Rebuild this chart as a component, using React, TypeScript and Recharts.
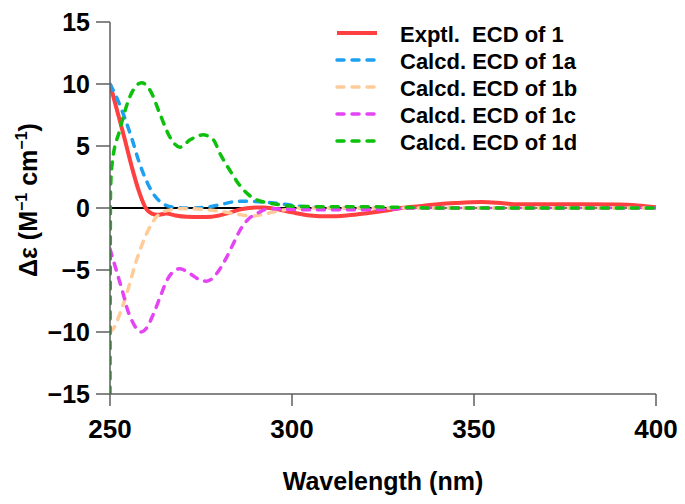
import React from "react";
import { LineChart, Line, XAxis, YAxis, ReferenceLine } from "recharts";

const FONT = '"Liberation Sans", Arial, Helvetica, sans-serif';

// wavelength (nm) / Δε pairs for each curve
const exptWl = [250, 252, 254, 256, 258, 260, 261.5, 263, 265.5, 268, 271, 275, 278, 282, 286, 290, 292, 295, 300, 305, 310, 315, 320, 325, 330, 335, 340, 345, 352, 358, 362, 370, 380, 390, 395, 400];
const exptVals = [10, 7.8, 5.6, 3.3, 1.3, -0.1, -0.45, -0.55, -0.45, -0.6, -0.7, -0.72, -0.7, -0.45, -0.1, 0.05, 0.05, -0.05, -0.35, -0.6, -0.67, -0.6, -0.45, -0.25, 0, 0.15, 0.3, 0.4, 0.48, 0.38, 0.3, 0.3, 0.3, 0.28, 0.2, 0.05];

const calcAWl = [250, 252, 254, 256, 258, 260, 262, 264, 266, 268, 272, 276, 280, 284, 287, 291, 295, 298, 302, 306, 310, 400];
const calcAVals = [10, 8.8, 7.3, 5.6, 3.7, 2.2, 1.1, 0.45, 0.15, 0.05, 0, 0.05, 0.25, 0.5, 0.55, 0.5, 0.4, 0.3, 0.15, 0.05, 0, 0];

const calcBWl = [250, 251, 253, 254.6, 257.3, 260, 262.8, 265.7, 270, 275, 280, 285, 289, 293, 297, 302, 400];
const calcBVals = [-10, -9.7, -8.3, -6.9, -4.2, -2.1, -0.7, -0.2, -0.05, -0.1, -0.25, -0.5, -0.65, -0.45, -0.2, 0, 0];

const calcCWl = [250, 252, 253.6, 254.6, 256.4, 258.5, 260, 262, 264, 265.7, 267.5, 269.2, 272, 274.7, 276.5, 278.4, 280, 282, 284, 285.7, 288, 290.3, 294, 298, 305, 315, 325, 335, 400];
const calcCVals = [-3.3, -5.3, -6.9, -8, -9.3, -10, -9.7, -8.5, -7, -5.8, -5.1, -4.9, -5.3, -5.8, -5.9, -5.6, -5, -4, -2.8, -1.8, -0.9, -0.45, -0.05, -0.1, -0.15, -0.15, -0.1, 0, 0];

const calcDWl = [250, 250.15, 250.6, 252.7, 255.5, 258.7, 261, 263.7, 266.5, 269.2, 272, 275.6, 278.4, 280.2, 283, 285.7, 289.3, 292, 294.8, 300, 310, 320, 330, 340, 400];
const calcDVals = [-15, 1.5, 3.6, 6.3, 9, 10.1, 9.5, 7.6, 5.7, 4.9, 5.5, 5.9, 5.5, 4.4, 3, 1.8, 0.8, 0.5, 0.35, 0.15, 0.1, 0.1, 0.05, 0, 0];

const xTicks = [250, 300, 350, 400];
const yTicks = [-15, -10, -5, 0, 5, 10, 15];

const toPoints = (wl: number[], vals: number[]) => wl.map((x, i) => ({ x, y: vals[i] }));

const series = [
  { key: "expt", name: "Exptl.\u00a0 ECD of 1", color: "#ff4040", dash: undefined, width: 4, data: toPoints(exptWl, exptVals) },
  { key: "1a", name: "Calcd. ECD of 1a", color: "#1ea0f0", dash: "7 8", width: 3.5, data: toPoints(calcAWl, calcAVals) },
  { key: "1b", name: "Calcd. ECD of 1b", color: "#ffcc99", dash: "7 8", width: 3.5, data: toPoints(calcBWl, calcBVals) },
  { key: "1c", name: "Calcd. ECD of 1c", color: "#e444f4", dash: "7 8", width: 3.5, data: toPoints(calcCWl, calcCVals) },
  { key: "1d", name: "Calcd. ECD of 1d", color: "#0cc00c", dash: "7 8", width: 3.5, data: toPoints(calcDWl, calcDVals) },
];

const minus = (v: number) => String(v).replace("-", "\u2212");

function YLabel() {
  return (
    <text
      x={37}
      y={200}
      transform="rotate(-90 37 200)"
      textAnchor="middle"
      fontFamily={FONT}
      fontWeight="bold"
      fontSize={25}
      fill="#000"
    >
      Δε (M
      <tspan dy={-10} fontSize={16}>{"\u22121"}</tspan>
      <tspan dy={10}> cm</tspan>
      <tspan dy={-10} fontSize={16}>{"\u22121"}</tspan>
      <tspan dy={10}>)</tspan>
    </text>
  );
}

function XLabel() {
  return (
    <text x={383} y={490} textAnchor="middle" fontFamily={FONT} fontWeight="bold" fontSize={25} fill="#000">
      Wavelength (nm)
    </text>
  );
}

function LegendBox() {
  return (
    <svg width={300} height={140} style={{ position: "absolute", left: 330, top: 18 }}>
      {series.map((s, i) => {
        const y = 15 + i * 27;
        return (
          <g key={s.key}>
            <line
              x1={7}
              x2={s.dash ? 45 : 47}
              y1={y}
              y2={y}
              stroke={s.color}
              strokeWidth={s.width}
              strokeDasharray={s.dash}
              strokeLinecap={s.dash ? "round" : "butt"}
            />
            <text x={70} y={y + 9} fontFamily={FONT} fontWeight="bold" fontSize={22} fill="#000">
              {s.name}
            </text>
          </g>
        );
      })}
    </svg>
  );
}

export default function App() {
  return (
    <div style={{ position: "absolute", left: 0, top: 0, width: 685, height: 504, background: "#fff" }}>
      <LineChart width={685} height={504} margin={{ top: 22, right: 29, bottom: 0, left: 0 }}>
        <XAxis
          dataKey="x"
          type="number"
          domain={[250, 400]}
          ticks={xTicks}
          allowDataOverflow
          height={110}
          tickSize={12}
          tickMargin={14}
          stroke="#5e5e5e"
          strokeWidth={1.5}
          tick={{ fill: "#000", fontSize: 26, fontWeight: "bold", fontFamily: FONT }}
          label={{ content: () => <XLabel /> }}
        />
        <YAxis
          dataKey="y"
          type="number"
          domain={[-15, 15]}
          ticks={yTicks}
          allowDataOverflow
          width={110}
          tickSize={14}
          tickMargin={6}
          stroke="#5e5e5e"
          strokeWidth={1.5}
          tickFormatter={minus}
          tick={{ fill: "#000", fontSize: 25, fontWeight: "bold", fontFamily: FONT }}
          label={{ content: () => <YLabel /> }}
        />
        <ReferenceLine y={0} stroke="#000" strokeWidth={2} />
        {series.map((s) => (
          <Line
            key={s.key}
            data={s.data}
            dataKey="y"
            type="monotone"
            stroke={s.color}
            strokeWidth={s.width}
            strokeDasharray={s.dash}
            strokeLinecap={s.dash ? "round" : "butt"}
            dot={false}
            activeDot={false}
            isAnimationActive={false}
          />
        ))}
      </LineChart>
      <LegendBox />
    </div>
  );
}
